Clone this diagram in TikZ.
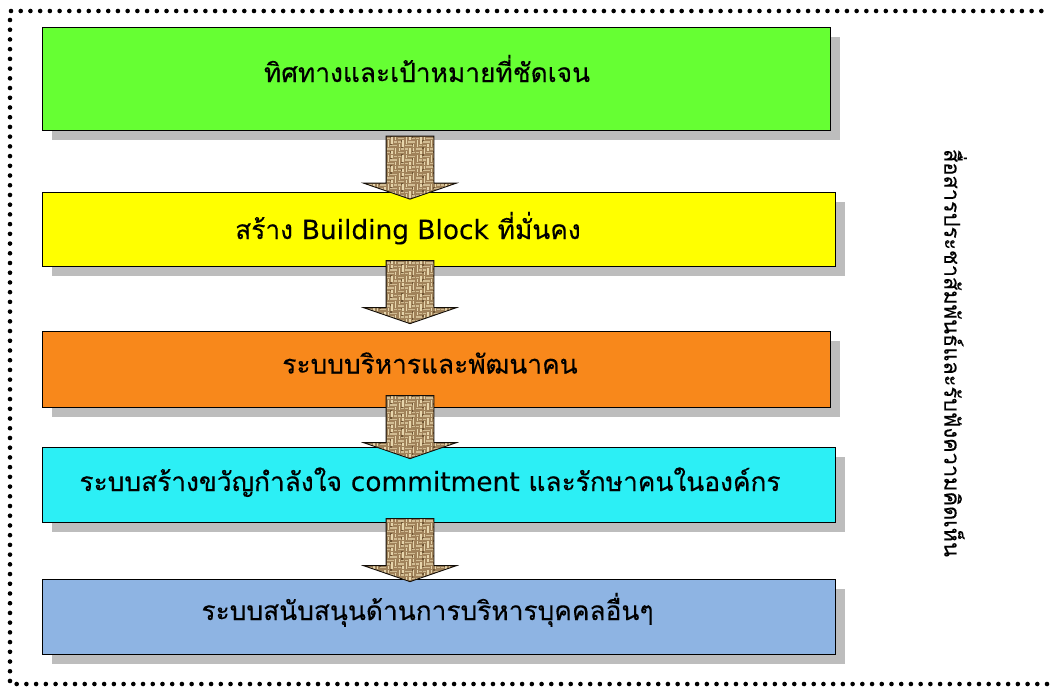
\documentclass[tikz,border=0pt]{standalone}
\usepackage{fontspec}
\usetikzlibrary{shapes.arrows,shadows,positioning}
\newfontfamily\thaifont[Script=Thai,FakeBold=0.25]{Loma}
\newfontfamily\latinfont[FakeBold=0.1]{DejaVu Sans}
\definecolor{cgreen}{HTML}{66FF33}
\definecolor{cyellow}{HTML}{FFFF00}
\definecolor{corange}{HTML}{F8881B}
\definecolor{ccyan}{HTML}{2CEFF5}
\definecolor{cblue}{HTML}{8EB4E3}
\definecolor{cshadow}{HTML}{BDBDBD}
\definecolor{bbase}{HTML}{A0825A}
\definecolor{blight}{HTML}{E6D5AC}
\definecolor{bdark}{HTML}{5F4628}
\newcommand{\lat}[1]{{\latinfont\fontsize{26.4}{30}\selectfont #1}}
\newcommand{\weave}{%
  \fill[bbase] (path picture bounding box.south west) rectangle (path picture bounding box.north east);
  \foreach \i in {-10,...,10}{\foreach \j in {-14,...,14}{%
    \pgfmathtruncatemacro{\m}{mod(\i+\j+40,4)}%
    \ifnum\m<2
      \fill[blight] (\i*3.6pt-1.6pt,\j*3.6pt-0.7pt) rectangle (\i*3.6pt+1.6pt,\j*3.6pt+0.7pt);
    \else
      \fill[blight!70!bbase] (\i*3.6pt-0.7pt,\j*3.6pt-1.6pt) rectangle (\i*3.6pt+0.7pt,\j*3.6pt+1.6pt);
    \fi
    \pgfmathtruncatemacro{\n}{mod(\i*3+\j*5+90,6)}%
    \ifnum\n=0
      \fill[bdark,opacity=.75] (\i*3.6pt+1.6pt,\j*3.6pt+1.6pt) rectangle +(1.8pt,1.8pt);
    \fi
  }}%
}
\tikzset{
  x=1pt,y=-1pt,
  flowbox/.style={draw=black,line width=0.9pt,inner sep=0pt,outer sep=0pt,
    copy shadow={shadow xshift=10pt,shadow yshift=-10pt,fill=cshadow,draw=none}},
  boxtext/.style={font=\thaifont\fontsize{26.3}{30}\selectfont,inner sep=0pt,text=black,anchor=base},
  sidetext/.style={font=\thaifont\fontsize{21.8}{26}\selectfont,inner sep=0pt,text=black,rotate=-90},
  burlap/.style={single arrow,draw=black!80!bdark,line width=0.9pt,inner xsep=0pt,inner ysep=23.5pt,outer sep=0pt,
    rotate=-90,minimum width=92pt,minimum height=63pt,
    single arrow head extend=22.5pt,single arrow tip angle=142,path picture={\weave}},
  dotline/.style={line width=4.6pt,line cap=round,dash pattern=on 0pt off 9.72pt}
}
\begin{document}
\begin{tikzpicture}
\useasboundingbox (0,0) rectangle (1051,686);
\draw[dotline] (11,11) -- (1051,11);
\draw[dotline] (10,20) -- (10,684) -- (1051,684);
\node[flowbox,fill=cgreen,minimum width=788pt,minimum height=103pt] (b1) at (436,78.5) {};
\node[flowbox,fill=cyellow,minimum width=793pt,minimum height=74pt] (b2) at (438.5,229) {};
\node[flowbox,fill=corange,minimum width=788pt,minimum height=76pt] (b3) at (436,369) {};
\node[flowbox,fill=ccyan,minimum width=793pt,minimum height=75pt] (b4) at (438.5,484.5) {};
\node[flowbox,fill=cblue,minimum width=793pt,minimum height=75pt] (b5) at (438.5,616.5) {};
\node[burlap] (a1) at (410,163.5) {};
\node[burlap] (a2) at (410,288) {};
\node[burlap] (a3) at (410,423) {};
\node[burlap] (a4) at (410,546) {};
\node[boxtext] (t1) at (427,82) {ทิศทางและเป้าหมายที่ชัดเจน};
\node[boxtext] (t2) at (408,239) {สร้าง \lat{Building Block} ที่มั่นคง};
\node[boxtext] (t3) at (430,373.5) {ระบบบริหารและพัฒนาคน};
\node[boxtext] (t4) at (430,491) {ระบบสร้างขวัญกำลังใจ \lat{commitment} และรักษาคนในองค์กร};
\node[boxtext] (t5) at (427.5,620) {ระบบสนับสนุนด้านการบริหารบุคคลอื่นๆ};
\node[sidetext] (side) at (955.5,353) {สื่อสารประชาสัมพันธ์และรับฟังความคิดเห็น};
\end{tikzpicture}
\end{document}
